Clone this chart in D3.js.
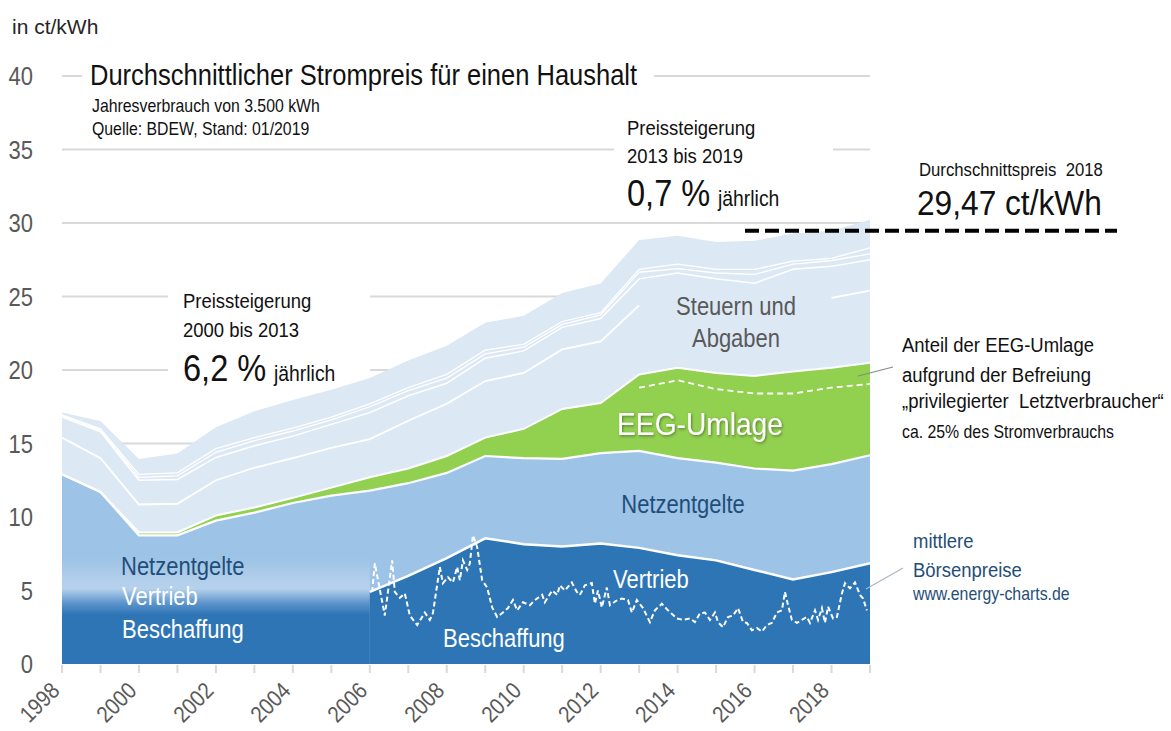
<!DOCTYPE html>
<html>
<head>
<meta charset="utf-8">
<script src="https://cdn.jsdelivr.net/npm/d3@7"></script>
<style>
  body { margin: 0; background: #fff; }
  svg text { font-family: "Liberation Sans", Arial, sans-serif; white-space: pre; }
</style>
</head>
<body>
<svg id="chart" width="1171" height="731"></svg>
<script>
// ---- data (ct/kWh) ----
const years = [1998, 1999, 2000, 2001, 2002, 2003, 2004, 2005, 2006, 2007, 2008,
  2009, 2010, 2011, 2012, 2013, 2014, 2015, 2016, 2017, 2018, 2019]
const totalPrice = [17.11, 16.53, 13.94, 14.32, 16.11, 17.19, 17.96, 18.66, 19.46, 20.64, 21.65,
  23.21, 23.69, 25.23, 25.89, 28.84, 29.14, 28.70, 28.80, 29.28, 29.47, 30.22]
// white separator lines inside "Steuern und Abgaben"
const taxLine1 = [16.95, 16.0, 12.9, 13.0, 14.65, 15.4, 16.05, 16.8, 17.7, 18.8, 19.7,
  21.35, 21.75, 23.3, 23.9, 26.85, 27.2, 26.85, 26.85, 27.4, 27.6, 28.3]
const taxLine2 = [16.9, 15.9, 12.7, 12.8, 14.4, 15.2, 15.85, 16.6, 17.5, 18.6, 19.45,
  21.1, 21.55, 23.1, 23.75, 26.65, 26.9, 26.6, 26.5, 27.2, 27.45, 27.9]
const taxLine3 = [16.8, 15.8, 12.5, 12.55, 14.05, 14.85, 15.5, 16.3, 17.1, 18.25, 19.1,
  20.8, 21.3, 22.9, 23.5, 26.2, 26.6, 26.2, 25.9, 26.85, 27.05, 27.5]
const taxLine4 = [15.4, 14.0, 10.85, 10.9, 12.5, 13.35, 14.0, 14.7, 15.3, 16.55, 17.7,
  19.25, 19.8, 21.4, 21.95, 24.4, null, null, null, null, 24.9, 25.4]
const eegTop = [12.9, 11.7, 8.95, 8.95, 10.1, 10.65, 11.3, 12.0, 12.7, 13.3, 14.15,
  15.4, 16.0, 17.35, 17.75, 19.7, 20.15, 19.8, 19.6, 19.9, 20.15, 20.5]
const netzTop = [12.9, 11.7, 8.75, 8.75, 9.75, 10.3, 10.95, 11.45, 11.8, 12.3, 13.0,
  14.15, 14.0, 13.95, 14.35, 14.5, 14.0, 13.7, 13.3, 13.15, 13.6, 14.2]
const vertriebTop = [null, null, null, null, null, null, null, null, 4.9, 6.0, 7.2,
  8.55, 8.15, 8.0, 8.2, 7.9, 7.4, 7.05, 6.4, 5.75, 6.25, 6.85]
const privileged = [null, null, null, null, null, null, null, null, null, null, null,
  null, null, null, null, 18.8, 19.3, 18.7, 18.4, 18.4, 18.8, 19.05]

// monthly exchange prices (energy-charts)
const boersenTime = [2006.06, 2006.13, 2006.39, 2006.58, 2006.65, 2006.78, 2006.91,
  2007.04, 2007.23, 2007.43, 2007.56, 2007.64, 2007.82, 2007.90,
  2008.03, 2008.16, 2008.27, 2008.34, 2008.42, 2008.53, 2008.60, 2008.68, 2008.79, 2008.92,
  2009.05, 2009.18, 2009.31, 2009.46, 2009.59, 2009.72, 2009.83, 2009.98,
  2010.16, 2010.29, 2010.48, 2010.55, 2010.74, 2010.87, 2010.94,
  2011.07, 2011.25, 2011.38, 2011.46, 2011.59, 2011.77, 2011.85, 2011.93,
  2012.03, 2012.16, 2012.24, 2012.40, 2012.55, 2012.71, 2012.81, 2012.94,
  2013.10, 2013.28, 2013.41, 2013.59, 2013.75, 2013.98,
  2014.14, 2014.32, 2014.45, 2014.58, 2014.71, 2014.84, 2014.97,
  2015.05, 2015.18, 2015.31, 2015.44, 2015.57, 2015.70, 2015.80, 2015.93,
  2016.06, 2016.19, 2016.32, 2016.45, 2016.58, 2016.71, 2016.79, 2016.87, 2016.97,
  2017.10, 2017.23, 2017.36, 2017.44, 2017.57, 2017.65, 2017.75, 2017.83, 2017.91,
  2018.04, 2018.14, 2018.27, 2018.35, 2018.48, 2018.61, 2018.74, 2018.82, 2018.92]
const boersenPrice = [4.9, 6.85, 3.3, 7.05, 4.9, 4.5, 4.8,
  3.3, 2.65, 3.5, 3.0, 3.45, 6.6, 5.5,
  5.9, 5.55, 6.6, 5.7, 7.05, 6.4, 6.85, 8.75, 7.95, 5.7,
  5.2, 3.85, 3.2, 3.5, 3.8, 4.35, 3.65, 4.2,
  4.0, 4.35, 4.7, 4.2, 5.0, 4.7, 5.35,
  5.0, 5.55, 4.9, 4.7, 5.35, 5.5, 4.1, 5.0,
  3.85, 5.2, 4.0, 4.3, 4.45, 4.35, 3.5, 4.35,
  3.8, 2.85, 3.65, 4.1, 3.65, 3.1,
  3.0, 3.1, 2.85, 3.45, 3.5, 3.0, 3.5,
  2.85, 2.5, 3.2, 3.3, 3.8, 2.85, 2.8, 2.3,
  2.45, 2.2, 2.65, 2.8, 3.5, 3.65, 4.9, 4.0, 3.0,
  2.8, 3.0, 3.2, 2.8, 3.65, 3.0, 3.8, 2.8, 3.9,
  3.1, 3.2, 4.8, 5.5, 5.15, 5.55, 4.7, 4.45, 3.65]

const yTicks = [0, 5, 10, 15, 20, 25, 30, 35, 40]
const xLabelYears = [1998, 2000, 2002, 2004, 2006, 2008, 2010, 2012, 2014, 2016, 2018]
const avgPrice2018 = 29.47

// ---- setup ----
const svg = d3.select("#chart")
const x = d3.scaleLinear().domain([1998, 2019]).range([62, 870])
const y = d3.scaleLinear().domain([0, 40]).range([664, 76])
const SX = 0.88   // condensed look of the original type

const C = {
  dark: "#2E75B6", light: "#9DC3E6", green: "#92D050", pale: "#DDE8F5",
  grid: "#D9D9D9", axis: "#595959", navy: "#1F4E79"
}

const rows = years.map((yr, i) => ({
  yr, total: totalPrice[i], t1: taxLine1[i], t2: taxLine2[i], t3: taxLine3[i], t4: taxLine4[i],
  eeg: eegTop[i], netz: netzTop[i], vt: vertriebTop[i], priv: privileged[i]
}))

const defs = svg.append("defs")
const grad = defs.append("linearGradient")
  .attr("id", "fade").attr("gradientUnits", "userSpaceOnUse")
  .attr("x1", 0).attr("x2", 0).attr("y1", y(0)).attr("y2", y(8))
;[[0, C.dark], [0.42, C.dark], [0.52, "#5E95CC"], [0.64, "#B6D1EC"], [0.74, "#B0CDEA"], [0.9, C.light], [1, C.light]]
  .forEach(([o, c]) => grad.append("stop").attr("offset", o).attr("stop-color", c))

const shadow = defs.append("filter").attr("id", "shadow")
  .attr("x", "-10%").attr("y", "-20%").attr("width", "130%").attr("height", "150%")
shadow.append("feDropShadow").attr("dx", 1.2).attr("dy", 1.2).attr("stdDeviation", 1.4)
  .attr("flood-color", "#3a5a20").attr("flood-opacity", 0.7)

// text helper
function label(str, px, py, size, color, anchor = "start", extra = "") {
  return svg.append("text")
    .attr("transform", `translate(${px},${py}) ${extra} scale(${SX},1)`)
    .attr("font-size", size)
    .attr("fill", color)
    .attr("text-anchor", anchor)
    .text(str)
}

// ---- gridlines ----
svg.append("g").selectAll("line").data(yTicks.filter(v => v > 0)).join("line")
  .attr("x1", x(1998)).attr("x2", x(2019))
  .attr("y1", d => y(d)).attr("y2", d => y(d))
  .attr("stroke", C.grid).attr("stroke-width", 2)

// white boxes behind text blocks (break the gridlines)
svg.append("rect").attr("x", 82).attr("y", 56).attr("width", 572).attr("height", 84).attr("fill", "#fff")
svg.append("rect").attr("x", 168).attr("y", 282).attr("width", 202).attr("height", 92).attr("fill", "#fff")
svg.append("rect").attr("x", 614).attr("y", 112).attr("width", 219).attr("height", 100).attr("fill", "#fff")

// ---- areas ----
const area = (lo, hi) => d3.area()
  .defined(d => hi(d) != null)
  .x(d => x(d.yr)).y0(d => y(lo(d))).y1(d => y(hi(d)))

svg.append("path").datum(rows).attr("fill", C.pale).attr("d", area(() => 0, d => d.total))
svg.append("path").datum(rows).attr("fill", C.green).attr("d", area(() => 0, d => d.eeg))
svg.append("path").datum(rows).attr("fill", C.light).attr("d", area(() => 0, d => d.netz))

// before 2006 procurement/sales/grid are not split: faded band
svg.append("rect")
  .attr("x", x(1998)).attr("width", x(2006) - x(1998))
  .attr("y", y(8)).attr("height", y(0) - y(8))
  .attr("fill", "url(#fade)")

svg.append("path").datum(rows).attr("fill", C.dark).attr("d", area(() => 0, d => d.vt))

// ---- separator lines ----
const line = acc => d3.line().defined(d => acc(d) != null).x(d => x(d.yr)).y(d => y(acc(d)))

;[["t1", 1.3], ["t2", 1.3], ["t3", 1.5], ["t4", 1.8]].forEach(([k, w]) => {
  svg.append("path").datum(rows).attr("fill", "none").attr("stroke", "#fff")
    .attr("stroke-width", w).attr("d", line(d => d[k]))
})
svg.append("path").datum(rows).attr("fill", "none").attr("stroke", "#fff")
  .attr("stroke-width", 2).attr("d", line(d => d.eeg))
svg.append("path").datum(rows).attr("fill", "none").attr("stroke", "#fff")
  .attr("stroke-width", 2.2).attr("d", line(d => d.netz))
svg.append("path").datum(rows).attr("fill", "none").attr("stroke", "#fff")
  .attr("stroke-width", 2.5).attr("d", line(d => d.vt))

// privileged consumers share (dashed, inside EEG band)
svg.append("path").datum(rows.filter(d => d.priv != null)).attr("fill", "none")
  .attr("stroke", "#fff").attr("stroke-width", 1.8).attr("stroke-dasharray", "6,4")
  .attr("d", line(d => d.priv))

// exchange price
const boersen = boersenTime.map((t, i) => ({ t, v: boersenPrice[i] }))
svg.append("path").datum(boersen).attr("fill", "none")
  .attr("stroke", "#fff").attr("stroke-width", 2).attr("stroke-dasharray", "5,3")
  .attr("d", d3.line().x(d => x(d.t)).y(d => y(d.v)))

// ---- axes ----
svg.append("g").selectAll("line").data(years).join("line")
  .attr("x1", d => x(d)).attr("x2", d => x(d))
  .attr("y1", y(0) + 1).attr("y2", y(0) + 9)
  .attr("stroke", C.grid).attr("stroke-width", 2)

yTicks.forEach(v => label(String(v), 33, y(v) + 9, 25, C.axis, "end"))
xLabelYears.forEach(yr => label(String(yr), x(yr) - 1, 692, 23, C.axis, "end", "rotate(-45)"))

svg.append("text").attr("x", 12).attr("y", 34).attr("font-size", 21).attr("fill", "#262626").text("in ct/kWh")

// ---- titles and notes ----
label("Durchschnittlicher Strompreis für einen Haushalt", 90, 85, 29, "#111")
label("Jahresverbrauch von 3.500 kWh", 92, 112, 18, "#111")
label("Quelle: BDEW, Stand: 01/2019", 92, 135, 18, "#111")

label("Preissteigerung", 183, 308, 21, "#111")
label("2000 bis 2013", 183, 337, 21, "#111")
label("6,2 %", 183, 381, 37, "#111")
label("jährlich", 274, 381, 22, "#111")

label("Preissteigerung", 627, 135, 21, "#111")
label("2013 bis 2019", 627, 163, 21, "#111")
label("0,7 %", 627, 206, 37, "#111")
label("jährlich", 718, 206, 22, "#111")

label("Durchschnittspreis  2018", 919, 176, 19, "#111")
label("29,47 ct/kWh", 917, 215, 36, "#111")
svg.append("line")
  .attr("x1", 745).attr("x2", 1117)
  .attr("y1", y(avgPrice2018)).attr("y2", y(avgPrice2018))
  .attr("stroke", "#000").attr("stroke-width", 4).attr("stroke-dasharray", "14,6")

// layer names
label("Steuern und", 736, 315, 25, C.axis, "middle")
label("Abgaben", 736, 347, 25, C.axis, "middle")
label("EEG-Umlage", 700, 435, 32, "#fff", "middle").attr("filter", "url(#shadow)")
label("Netzentgelte", 683, 513, 25, C.navy, "middle")
label("Vertrieb", 613, 588, 25, "#fff")
label("Beschaffung", 443, 647, 25, "#fff")

label("Netzentgelte", 121, 575, 25, C.navy)
label("Vertrieb", 122, 605, 25, "#fff")
label("Beschaffung", 122, 638, 25, "#fff")

// right-hand notes
svg.append("line").attr("x1", 858).attr("y1", 376).attr("x2", 893).attr("y2", 367)
  .attr("stroke", "#7f8f7f").attr("stroke-width", 1.2)
label("Anteil der EEG-Umlage", 902, 352, 21, "#111")
label("aufgrund der Befreiung", 902, 382, 21, "#111")
label("„privilegierter  Letztverbraucher“", 902, 408, 21, "#111")
label("ca. 25% des Stromverbrauchs", 902, 438, 18, "#111")

svg.append("line").attr("x1", 866).attr("y1", 589).attr("x2", 903).attr("y2", 568)
  .attr("stroke", "#a9b8c6").attr("stroke-width", 1.2)
label("mittlere", 913, 548, 21, C.navy)
label("Börsenpreise", 913, 577, 21, C.navy)
label("www.energy-charts.de", 913, 600, 18, C.navy)
</script>
</body>
</html>
